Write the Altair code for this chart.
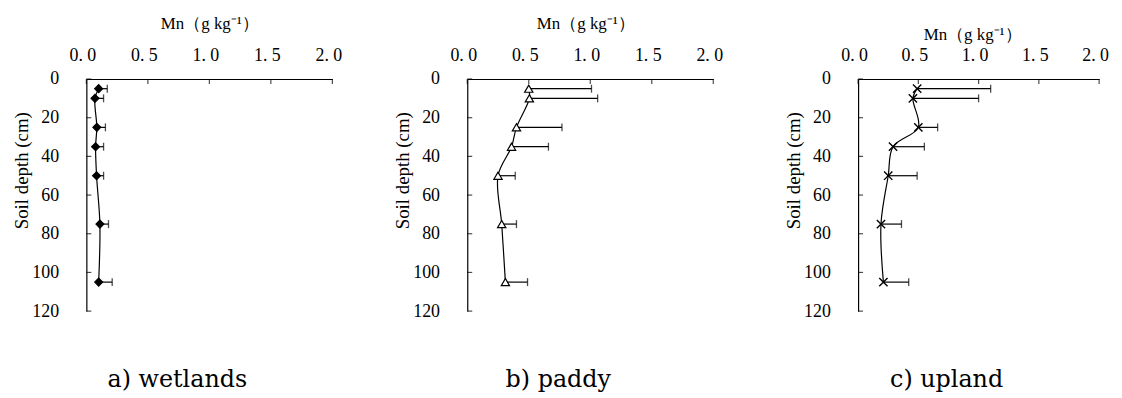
import altair as alt
import pandas as pd

depth = [5, 10, 25, 35, 50, 75, 105]
wet_mn = [0.10, 0.07, 0.085, 0.075, 0.083, 0.11, 0.10]
wet_hi = [0.17, 0.14, 0.155, 0.14, 0.14, 0.18, 0.21]
paddy_mn = [0.50, 0.505, 0.40, 0.36, 0.25, 0.28, 0.31]
paddy_hi = [1.01, 1.06, 0.77, 0.66, 0.39, 0.40, 0.49]
upland_mn = [0.49, 0.455, 0.50, 0.29, 0.25, 0.19, 0.21]
upland_hi = [1.10, 1.00, 0.66, 0.55, 0.49, 0.36, 0.42]
x_ticks = [0, 0.5, 1.0, 1.5, 2.0]
y_ticks = [0, 20, 40, 60, 80, 100, 120]
captions = ["a) wetlands", "b) paddy", "c) upland"]
x_title = "Mn（g kg⁻¹）"
y_title = "Soil depth (cm)"

SERIF = "Liberation Serif"


def panel(mn, hi, caption, shape, fill, size, width, title_x, title_pad):
    df = pd.DataFrame({"depth": depth, "mn": mn, "hi": hi})
    xt = pd.DataFrame({"v": x_ticks})
    yt = pd.DataFrame({"v": y_ticks})
    xs = alt.Scale(domain=[0, 2], nice=False, zero=True)
    ys = alt.Scale(domain=[0, 120], reverse=True, nice=False)
    xaxis = alt.Axis(
        orient="top", values=x_ticks, grid=False, ticks=False, tickSize=0,
        labelExpr="replace(format(datum.value, '.1f'), '.', '. ')",
        labelFont=SERIF, labelFontSize=18, labelColor="black", labelPadding=15,
        labelFlush=False, labelOverlap=False, labelOffset=-4,
        domainColor="black", domainWidth=1.2,
        title=x_title, titleFont=SERIF, titleFontSize=17, titleFontWeight="normal",
        titleColor="black", titlePadding=title_pad, titleX=title_x,
    )
    yaxis = alt.Axis(
        values=y_ticks, format="d", grid=False, ticks=False, tickSize=0,
        labelFont=SERIF, labelFontSize=18, labelColor="black", labelPadding=28,
        labelOverlap=False, labelFlush=False,
        domainColor="black", domainWidth=1.2,
        title=y_title, titleFont=SERIF, titleFontSize=19, titleFontWeight="normal",
        titleColor="black", titlePadding=0, titleY=92,
    )

    def X(f):
        return alt.X(f, type="quantitative", scale=xs, axis=xaxis)

    def Y(f):
        return alt.Y(f, type="quantitative", scale=ys, axis=yaxis)

    base = alt.Chart(df)
    err = base.mark_rule(color="black", strokeWidth=1.2).encode(
        x=X("mn"), x2="hi", y=Y("depth"))
    cap = base.mark_tick(color="black", thickness=1.3, size=8, orient="vertical").encode(
        x=X("hi"), y=Y("depth"))
    line = base.mark_line(color="black", strokeWidth=1.2, interpolate="catmull-rom").encode(
        x=X("mn"), y=Y("depth"), order="depth:Q")
    if fill is None:
        pts = base.mark_point(shape=shape, filled=False, size=size, color="black",
                              strokeWidth=1.4, opacity=1)
    else:
        pts = base.mark_point(shape=shape, filled=True, fill=fill, stroke="black",
                              size=size, strokeWidth=1.2, opacity=1)
    pts = pts.encode(x=X("mn"), y=Y("depth"))
    xtick = alt.Chart(xt).mark_tick(color="black", thickness=1.2, size=5, orient="vertical").encode(
        x=X("v"), y=alt.value(2.5))
    ytick = alt.Chart(yt).mark_tick(color="black", thickness=1.2, size=5, orient="horizontal").encode(
        y=Y("v"), x=alt.value(2.5))
    return alt.layer(err, cap, line, pts, xtick, ytick).properties(
        width=width, height=234,
        title=alt.TitleParams(caption, orient="bottom", anchor="middle", frame="bounds",
                              font="DejaVu Serif", fontSize=24, fontWeight="normal",
                              color="black", offset=48),
    )


a = panel(wet_mn, wet_hi, captions[0], "diamond", "black", 64, 248, 124, 14)
b = panel(paddy_mn, paddy_hi, captions[1], "triangle-up", "white", 70, 248, 119, 14)
c = panel(upland_mn, upland_hi, captions[2], "M-1,-1L1,1M-1,1L1,-1", None, 70, 243, 115, 3)

chart = alt.hconcat(alt.hconcat(a, b, spacing=52), c, spacing=62).configure(
    font="Liberation Serif", background="white").configure_view(stroke=None)
chart.save("out.html", embed_options={"renderer": "svg", "actions": False})
